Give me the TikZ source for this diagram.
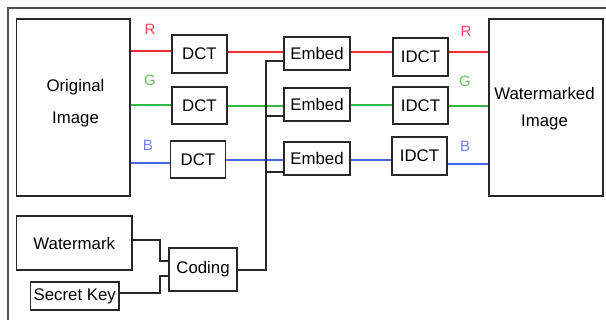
\documentclass[tikz,border=0pt]{standalone}
\usepackage{fontspec}
\setmainfont{Liberation Sans}
\definecolor{lred}{RGB}{235,45,55}
\definecolor{tred}{RGB}{245,70,90}
\definecolor{lgreen}{RGB}{50,185,70}
\definecolor{tgreen}{RGB}{100,195,90}
\definecolor{lblue}{RGB}{70,100,235}
\definecolor{tblue}{RGB}{110,130,245}
\definecolor{boxc}{RGB}{40,40,40}
\definecolor{framec}{RGB}{80,80,80}
\begin{document}
\begin{tikzpicture}[x=1pt,y=-1pt,
  blk/.style={draw=boxc,line width=1.4pt,rectangle,inner sep=0pt,align=center,
    font=\fontsize{16.8}{20}\selectfont},
  txt/.style={inner sep=0pt,align=center},
  conn/.style={line width=1.5pt},
  chan/.style={font=\fontsize{15}{18}\selectfont}]
\useasboundingbox (0,0) rectangle (606,320);
\draw[framec,line width=1.6pt] (8,340) -- (8,8) -- (630,8);
% boxes
\node[blk,minimum width=113.5pt,minimum height=177pt] (orig) at (73.25,107.5) {};
\node[txt,font=\fontsize{16.8}{32}\selectfont] (origt) at (75.5,103) {Original\\Image};
\node[blk,minimum width=55pt,minimum height=38pt] (dctR) at (199.5,54) {DCT};
\node[blk,minimum width=55pt,minimum height=37pt] (dctG) at (199.5,105.5) {DCT};
\node[blk,minimum width=55pt,minimum height=37pt] (dctB) at (198,159.5) {DCT};
\node[blk,minimum width=66pt,minimum height=33pt] (embR) at (317,53.5) {Embed};
\node[blk,minimum width=66pt,minimum height=33pt] (embG) at (317,104.5) {Embed};
\node[blk,minimum width=66pt,minimum height=33pt] (embB) at (317,158.5) {Embed};
\node[blk,minimum width=55pt,minimum height=38pt] (idR) at (420.5,57) {IDCT};
\node[blk,minimum width=55pt,minimum height=37pt] (idG) at (420.5,105.5) {IDCT};
\node[blk,minimum width=55pt,minimum height=38pt] (idB) at (419.5,156) {IDCT};
\node[blk,minimum width=114pt,minimum height=177pt] (wmi) at (546,107.5) {};
\node[txt,font=\fontsize{16.8}{27}\selectfont] (wmit) at (544.5,109) {Watermarked\\Image};
\node[blk,minimum width=115.5pt,minimum height=54pt] (wm) at (74.25,243) {Watermark};
\node[blk,minimum width=88.5pt,minimum height=28pt] (key) at (74.75,296) {Secret Key};
\node[blk,minimum width=68pt,minimum height=43pt] (cod) at (203,269.5) {Coding};
% channel labels
\node[chan,text=tred] (lr1) at (150,29) {R};
\node[chan,text=tgreen] (lg1) at (150,80) {G};
\node[chan,text=tblue] (lb1) at (148,145) {B};
\node[chan,text=tred] (lr2) at (466,31) {R};
\node[chan,text=tgreen] (lg2) at (465,81) {G};
\node[chan,text=tblue] (lb2) at (465,146) {B};
% red channel
\draw[conn,lred] (orig.east |- 0,51) -- (dctR.west |- 0,51);
\draw[conn,lred] (dctR.east |- 0,52) -- (embR.west |- 0,52);
\draw[conn,lred] (embR.east |- 0,52) -- (idR.west |- 0,52);
\draw[conn,lred] (idR.east |- 0,52) -- (wmi.west |- 0,52);
% green channel
\draw[conn,lgreen] (orig.east |- 0,105) -- (dctG.west |- 0,105);
\draw[conn,lgreen] (dctG.east |- 0,106) -- (embG.west |- 0,106);
\draw[conn,lgreen] (embG.east |- 0,105) -- (idG.west |- 0,105);
\draw[conn,lgreen] (idG.east |- 0,106) -- (wmi.west |- 0,106);
% blue channel
\draw[conn,lblue] (orig.east |- 0,163) -- (dctB.west |- 0,163);
\draw[conn,lblue] (dctB.east |- 0,160) -- (embB.west |- 0,160);
\draw[conn,lblue] (embB.east |- 0,160) -- (idB.west |- 0,160);
\draw[conn,lblue] (idB.east |- 0,164) -- (wmi.west |- 0,164);
% watermark bus
\coordinate (bt) at (266,61);
\coordinate (bb) at (266,270);
\draw[conn,boxc] (embR.west |- bt) -- (bt) -- (bb) -- (cod.east |- bb);
\draw[conn,boxc] (bt |- 0,116) -- (embG.west |- 0,116);
\draw[conn,boxc] (bt |- 0,172) -- (embB.west |- 0,172);
% inputs to coding
\coordinate (jx) at (160,0);
\draw[conn,boxc] (wm.east |- 0,240) -- (jx |- 0,240) -- (jx |- 0,261) -- (cod.west |- 0,261);
\draw[conn,boxc] (key.east |- 0,293) -- (jx |- 0,293) -- (jx |- 0,276) -- (cod.west |- 0,276);
\end{tikzpicture}
\end{document}
